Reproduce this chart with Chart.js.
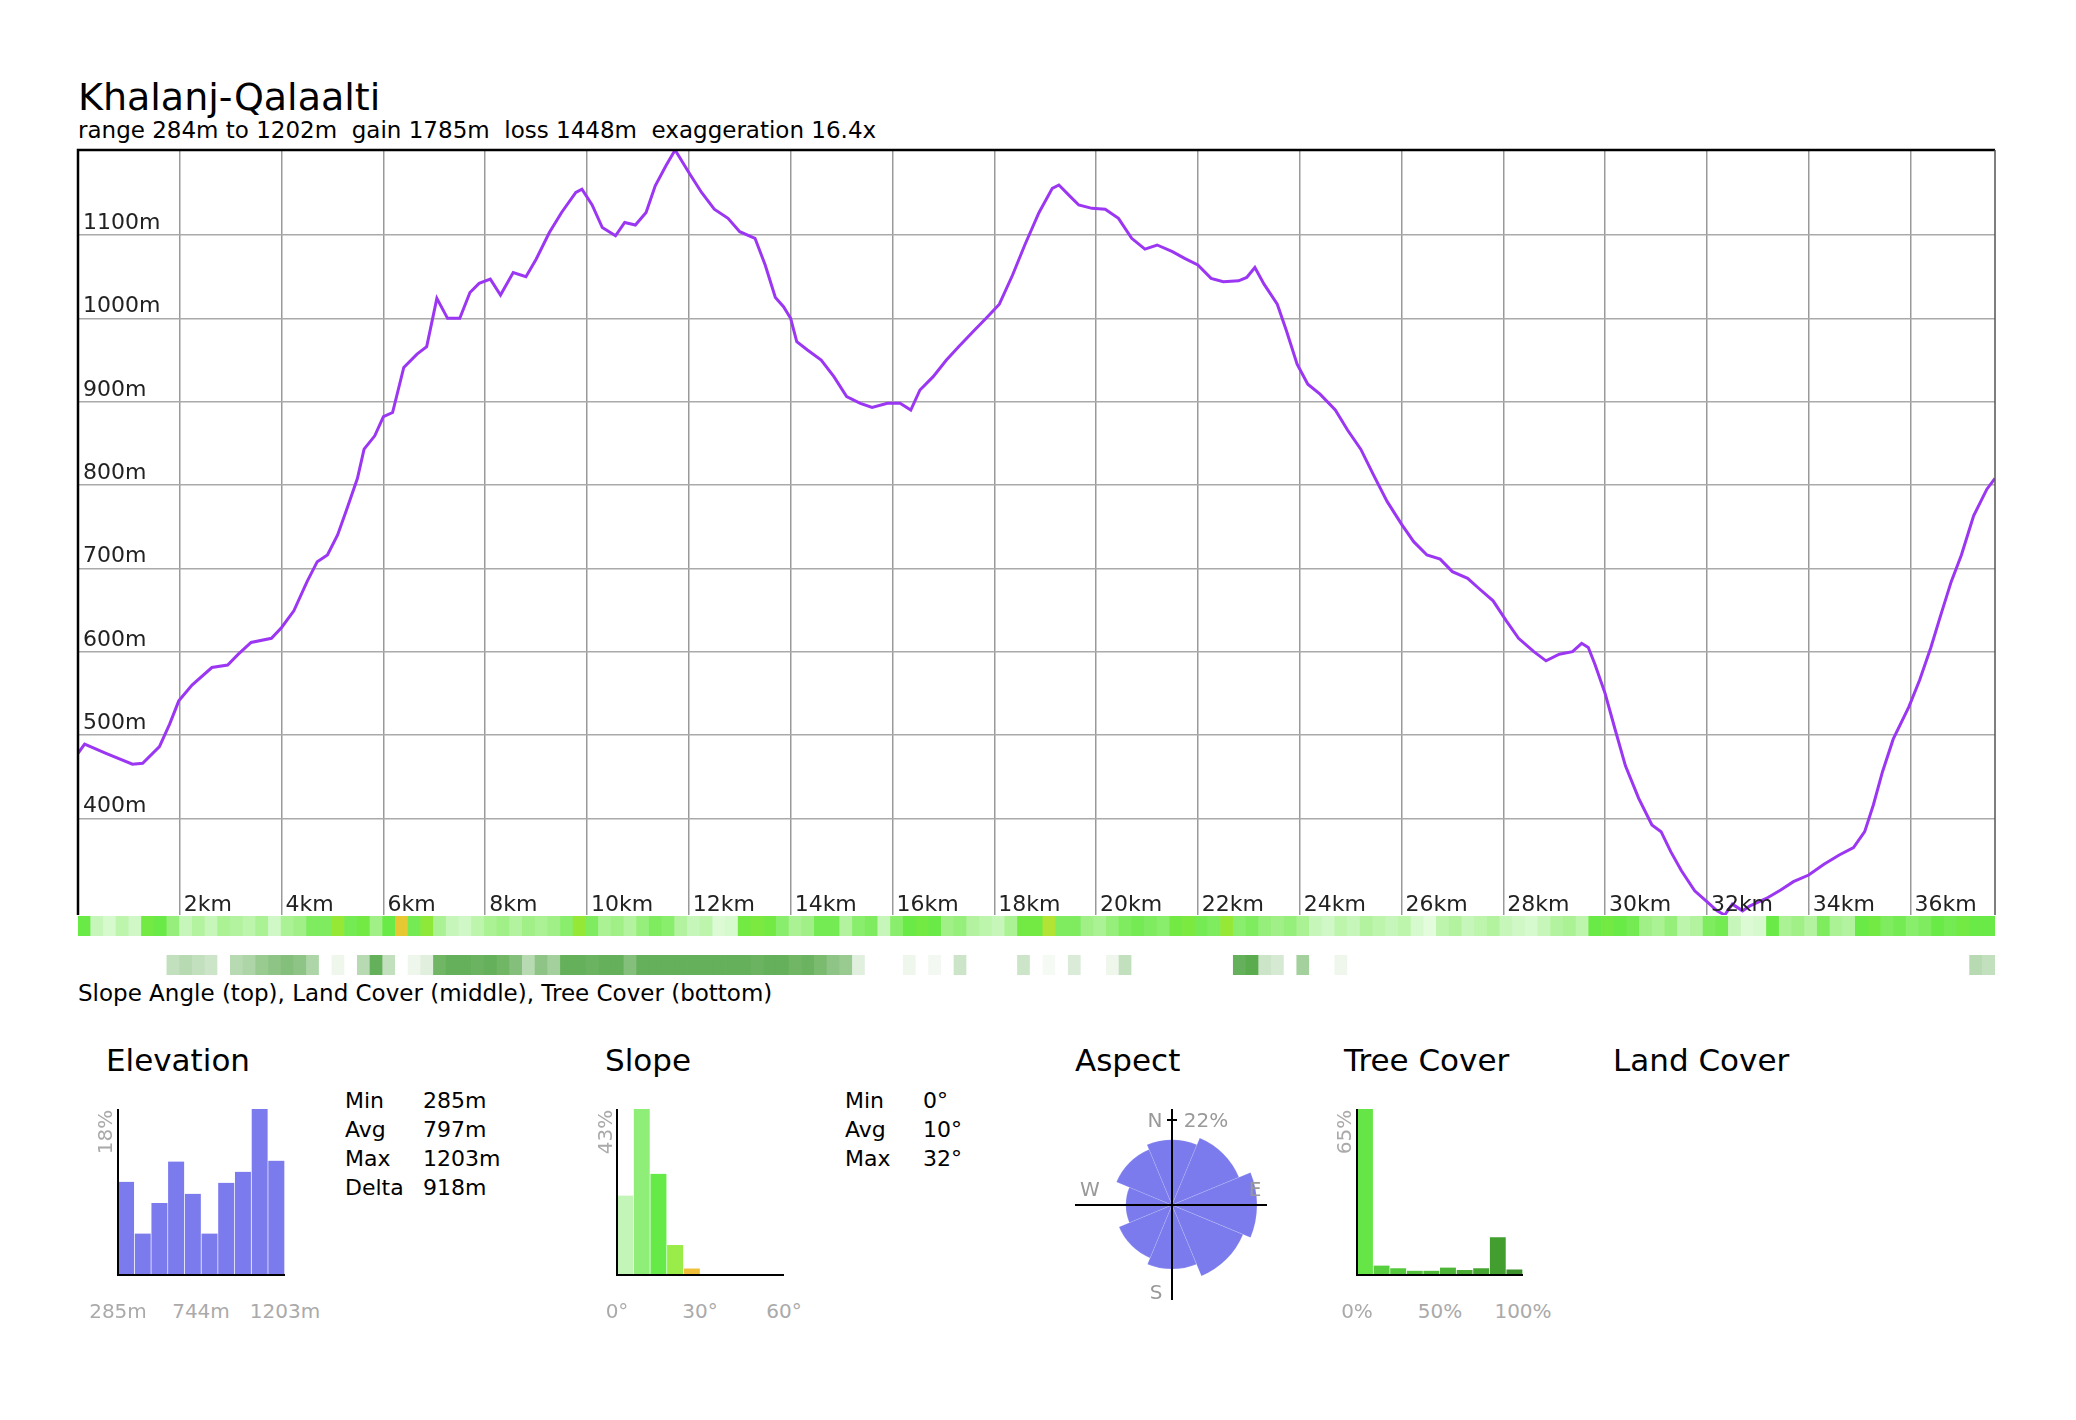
<!DOCTYPE html>
<html>
<head>
<meta charset="utf-8">
<script src="https://cdn.jsdelivr.net/npm/chart.js@4.4.0/dist/chart.umd.min.js"></script>
<style>
html, body { margin: 0; padding: 0; background: #fff; }
body { width: 2076px; height: 1420px; position: relative; overflow: hidden; font-family: "DejaVu Sans", sans-serif; color: #000; }
canvas { position: absolute; }
.t { position: absolute; white-space: pre; }
.g { position: absolute; white-space: pre; color: #aaa; font-size: 20px; line-height: 20px; transform: translate(-50%, -50%); }
.rot { transform: translate(-50%, -50%) rotate(-90deg); }
.h { font-size: 31px; line-height: 31px; top: 1045px; }
.s { font-size: 22px; line-height: 22px; }
</style>
</head>
<body>

<div class="t" style="left:78px;top:78px;font-size:38px;line-height:38px">Khalanj-Qalaalti</div>
<div class="t" style="left:78px;top:119px;font-size:23px;line-height:23px">range 284m to 1202m  gain 1785m  loss 1448m  exaggeration 16.4x</div>
<div class="t" style="left:78px;top:982px;font-size:23px;line-height:23px">Slope Angle (top), Land Cover (middle), Tree Cover (bottom)</div>

<canvas id="elevChart" width="1937" height="785" style="left:68px;top:140px"></canvas>
<canvas id="slopeStrip" width="1917" height="20" style="left:78px;top:916px"></canvas>
<canvas id="treeStrip" width="1917" height="20" style="left:78px;top:955px"></canvas>

<div class="t h" style="left:106px">Elevation</div>
<div class="t h" style="left:605px">Slope</div>
<div class="t h" style="left:1075px">Aspect</div>
<div class="t h" style="left:1344px">Tree Cover</div>
<div class="t h" style="left:1613px">Land Cover</div>

<div class="t s" style="left:345px;top:1090px">Min</div><div class="t s" style="left:423px;top:1090px">285m</div>
<div class="t s" style="left:345px;top:1119px">Avg</div><div class="t s" style="left:423px;top:1119px">797m</div>
<div class="t s" style="left:345px;top:1148px">Max</div><div class="t s" style="left:423px;top:1148px">1203m</div>
<div class="t s" style="left:345px;top:1177px">Delta</div><div class="t s" style="left:423px;top:1177px">918m</div>

<div class="t s" style="left:845px;top:1090px">Min</div><div class="t s" style="left:923px;top:1090px">0°</div>
<div class="t s" style="left:845px;top:1119px">Avg</div><div class="t s" style="left:923px;top:1119px">10°</div>
<div class="t s" style="left:845px;top:1148px">Max</div><div class="t s" style="left:923px;top:1148px">32°</div>

<canvas id="elevHist" width="175" height="174" style="left:114px;top:1105px"></canvas>
<canvas id="slopeHist" width="175" height="174" style="left:613px;top:1105px"></canvas>
<canvas id="aspectRose" width="200" height="200" style="left:1072px;top:1105px"></canvas>
<canvas id="treeHist" width="174" height="174" style="left:1353px;top:1105px"></canvas>

<div class="g rot" style="left:105px;top:1132px">18%</div>
<div class="g" style="left:118px;top:1311px">285m</div>
<div class="g" style="left:201px;top:1311px">744m</div>
<div class="g" style="left:285px;top:1311px">1203m</div>

<div class="g rot" style="left:605px;top:1132px">43%</div>
<div class="g" style="left:617px;top:1311px">0°</div>
<div class="g" style="left:700px;top:1311px">30°</div>
<div class="g" style="left:784px;top:1311px">60°</div>

<div class="g rot" style="left:1344px;top:1132px">65%</div>
<div class="g" style="left:1357px;top:1311px">0%</div>
<div class="g" style="left:1440px;top:1311px">50%</div>
<div class="g" style="left:1523px;top:1311px">100%</div>

<div class="g" style="left:1155px;top:1120px;color:#999">N</div>
<div class="g" style="left:1206px;top:1120px;color:#999">22%</div>
<div class="g" style="left:1090px;top:1189px;color:#999">W</div>
<div class="g" style="left:1255px;top:1189px;color:#999">E</div>
<div class="g" style="left:1156px;top:1292px;color:#999">S</div>

<script>
// elevation profile
var distKm = [0.0, 0.13, 0.55, 1.07, 1.27, 1.6, 1.8, 1.98, 2.24, 2.63, 2.94, 3.15, 3.4, 3.8, 4.0, 4.24, 4.5, 4.7, 4.9, 5.1,
    5.28, 5.49, 5.62, 5.83, 6.0, 6.18, 6.4, 6.66, 6.85, 7.05, 7.26, 7.5, 7.7, 7.88, 8.1, 8.3, 8.55, 8.8, 9.0, 9.26,
    9.5, 9.78, 9.9, 10.1, 10.3, 10.56, 10.74, 10.95, 11.16, 11.34, 11.55, 11.73, 12.0, 12.25, 12.5, 12.77, 13.0, 13.3, 13.5, 13.7,
    13.86, 14.0, 14.12, 14.33, 14.6, 14.85, 15.1, 15.37, 15.6, 15.9, 16.15, 16.36, 16.54, 16.8, 17.06, 17.3, 17.6, 17.84, 18.1, 18.36,
    18.6, 18.88, 19.14, 19.27, 19.48, 19.66, 19.92, 20.18, 20.44, 20.7, 20.96, 21.2, 21.5, 21.74, 22.0, 22.26, 22.5, 22.8, 22.96, 23.12,
    23.3, 23.56, 23.74, 23.95, 24.16, 24.4, 24.7, 24.94, 25.2, 25.46, 25.72, 26.0, 26.24, 26.5, 26.76, 27.0, 27.3, 27.5, 27.8, 28.06,
    28.3, 28.6, 28.84, 29.1, 29.36, 29.54, 29.67, 29.8, 30.0, 30.2, 30.4, 30.66, 30.92, 31.1, 31.29, 31.5, 31.76, 32.0, 32.2, 32.35,
    32.5, 32.7, 32.85, 33.2, 33.45, 33.7, 34.0, 34.3, 34.6, 34.88, 35.1, 35.27, 35.45, 35.66, 35.97, 36.18, 36.4, 36.6, 36.8, 37.0,
    37.24, 37.5, 37.66];
var elevM = [478, 489, 478, 465, 466, 486, 513, 541, 560, 581, 584, 597, 611, 616, 629, 649, 684, 708, 716, 740,
    771, 808, 843, 859, 882, 887, 941, 957, 966, 1024, 1000, 1000, 1031, 1042, 1047, 1028, 1055, 1050, 1071, 1103,
    1127, 1151, 1155, 1136, 1109, 1099, 1115, 1112, 1127, 1159, 1183, 1202, 1175, 1151, 1131, 1120, 1104, 1096, 1064, 1025,
    1014, 1000, 972, 962, 950, 930, 906, 898, 893, 898, 898, 890, 914, 930, 950, 966, 985, 1000, 1017, 1052,
    1088, 1127, 1156, 1160, 1147, 1136, 1132, 1131, 1120, 1096, 1083, 1088, 1080, 1072, 1064, 1048, 1044, 1045, 1049, 1061,
    1041, 1017, 985, 945, 921, 909, 890, 866, 843, 811, 780, 753, 732, 716, 711, 696, 688, 677, 661, 637,
    616, 600, 589, 597, 600, 610, 605, 585, 550, 506, 463, 424, 392, 384, 360, 337, 313, 300, 289, 284,
    297, 289, 295, 305, 314, 324, 332, 345, 356, 365, 384, 416, 456, 495, 534, 566, 605, 645, 684, 716,
    763, 795, 808];

var elevTicks = [400, 500, 600, 700, 800, 900, 1000, 1100];
var distTicks = [2, 4, 6, 8, 10, 12, 14, 16, 18, 20, 22, 24, 26, 28, 30, 32, 34, 36];

// slope angle (deg) and tree cover (%) along the track, one value per 0.25 km
var slopeDeg = [15, 6, 4, 7, 5, 16, 15, 11, 6, 8,
    6, 9, 8, 7, 9, 5, 9, 10, 13, 13,
    20, 14, 16, 10, 15, 27, 14, 19, 9, 6,
    5, 7, 9, 10, 8, 10, 9, 10, 12, 20,
    13, 9, 10, 8, 11, 13, 12, 8, 6, 7,
    3, 4, 16, 17, 16, 12, 9, 10, 14, 14,
    8, 12, 13, 6, 12, 15, 16, 15, 10, 11,
    8, 7, 6, 9, 16, 16, 22, 13, 13, 10,
    9, 11, 13, 14, 13, 12, 16, 17, 14, 13,
    20, 12, 13, 11, 10, 11, 9, 6, 5, 7,
    6, 8, 7, 6, 7, 4, 2, 7, 8, 6,
    7, 8, 6, 5, 4, 6, 8, 9, 7, 15,
    16, 15, 14, 10, 9, 11, 7, 8, 13, 14,
    6, 3, 4, 15, 9, 10, 8, 13, 9, 8,
    15, 16, 13, 14, 12, 13, 15, 14, 16, 15,
    15];
var treePct = [0, 0, 0, 0, 0, 0, 0, 30, 35, 30,
    25, 0, 35, 40, 50, 55, 60, 55, 40, 0,
    8, 0, 35, 75, 30, 0, 8, 15, 70, 75,
    75, 72, 75, 70, 60, 35, 55, 45, 75, 75,
    72, 75, 75, 60, 75, 75, 75, 75, 75, 75,
    75, 75, 75, 72, 75, 75, 70, 72, 65, 55,
    50, 15, 0, 0, 0, 8, 0, 6, 0, 25,
    0, 0, 0, 0, 25, 0, 5, 0, 18, 0,
    0, 8, 30, 0, 0, 0, 0, 0, 0, 0,
    0, 75, 80, 25, 20, 0, 45, 0, 0, 8,
    0, 0, 0, 0, 0, 0, 0, 0, 0, 0,
    0, 0, 0, 0, 0, 0, 0, 0, 0, 0,
    0, 0, 0, 0, 0, 0, 0, 0, 0, 0,
    0, 0, 0, 0, 0, 0, 0, 0, 0, 0,
    0, 0, 0, 0, 0, 0, 0, 0, 0, 35,
    30];

// summary histograms (percent of track)
var elevHistPct = [10.1, 4.5, 7.8, 12.3, 8.8, 4.5, 10.0, 11.2, 18.0, 12.4];
var slopeHistPct = [20.6, 43, 26.2, 7.8, 1.7, 0, 0, 0, 0, 0];
var treeHistPct = [65, 3.7, 2.6, 1.7, 1.7, 2.9, 2.0, 2.6, 14.8, 2.2];
var aspectDirs = ['N', 'NE', 'E', 'SE', 'S', 'SW', 'W', 'NW'];
var aspectPct = [13, 16, 22, 18, 12.5, 10, 6.5, 11];

var slopeHistColors = ['#c4f5b8', '#8eee78', '#66ea48', '#9aec48', '#f0c03a', '#f0a040', '#f08040', '#f06040', '#e04040', '#c03030'];
var treeHistColors = ['#66e646', '#58cf3e', '#55c93c', '#52c23a', '#4fbb38', '#4cb436', '#49ad34', '#46a632', '#429e2e', '#3c922a'];

var slopeStops = [[0, [238, 254, 234]], [5, [208, 248, 198]], [10, [160, 240, 135]], [15, [105, 234, 70]],
    [20, [150, 232, 55]], [25, [220, 222, 50]], [30, [245, 170, 50]], [40, [235, 100, 40]]];
var treeStops = [[0, [255, 255, 255]], [100, [50, 150, 35]]];

function stopColor(stops, v) {
    if (v <= stops[0][0]) return 'rgb(' + stops[0][1].join(',') + ')';
    for (var i = 1; i < stops.length; i++) {
        if (v <= stops[i][0]) {
            var a = stops[i - 1], b = stops[i];
            var f = (v - a[0]) / (b[0] - a[0]);
            var c = [0, 1, 2].map(function (k) { return Math.round(a[1][k] + (b[1][k] - a[1][k]) * f); });
            return 'rgb(' + c.join(',') + ')';
        }
    }
    return 'rgb(' + stops[stops.length - 1][1].join(',') + ')';
}

var FONT = '"DejaVu Sans", sans-serif';

// frame and in-plot tick labels for the profile
var profileFrame = {
    id: 'profileFrame',
    afterDraw: function (chart) {
        var ctx = chart.ctx, a = chart.chartArea;
        var xs = chart.scales.x, ys = chart.scales.y;
        ctx.save();
        ctx.font = '22px ' + FONT;
        ctx.fillStyle = '#222';
        ctx.textBaseline = 'alphabetic';
        ctx.textAlign = 'left';
        elevTicks.forEach(function (v) {
            ctx.fillText(v + 'm', a.left + 5, ys.getPixelForValue(v) - 6);
        });
        distTicks.forEach(function (v) {
            ctx.fillText(v + 'km', xs.getPixelForValue(v) + 4, a.bottom - 4);
        });
        ctx.strokeStyle = '#000';
        ctx.lineWidth = 2.5;
        ctx.beginPath();
        ctx.moveTo(a.left, a.bottom);
        ctx.lineTo(a.left, a.top);
        ctx.lineTo(a.right, a.top);
        ctx.stroke();
        ctx.strokeStyle = '#555';
        ctx.lineWidth = 1.5;
        ctx.beginPath();
        ctx.moveTo(a.right, a.top);
        ctx.lineTo(a.right, a.bottom);
        ctx.stroke();
        ctx.restore();
    }
};

var points = distKm.map(function (d, i) { return { x: d, y: elevM[i] }; });

new Chart(document.getElementById('elevChart'), {
    type: 'line',
    data: {
        datasets: [{
            data: points,
            borderColor: '#9b36f2',
            borderWidth: 3,
            pointRadius: 0,
            tension: 0,
            fill: false
        }]
    },
    options: {
        responsive: false,
        animation: false,
        layout: { padding: 10 },
        plugins: { legend: { display: false }, tooltip: { enabled: false } },
        scales: {
            x: {
                type: 'linear',
                min: 0,
                max: 37.66,
                afterBuildTicks: function (axis) { axis.ticks = distTicks.map(function (v) { return { value: v }; }); },
                ticks: { display: false },
                grid: { color: '#999', lineWidth: 1.5, drawTicks: false },
                border: { display: false }
            },
            y: {
                min: 284,
                max: 1202,
                afterBuildTicks: function (axis) { axis.ticks = elevTicks.map(function (v) { return { value: v }; }); },
                ticks: { display: false },
                grid: { color: '#aaa', lineWidth: 1.5, drawTicks: false },
                border: { display: false }
            }
        }
    },
    plugins: [profileFrame]
});

function stripChart(id, values, colorFn) {
    new Chart(document.getElementById(id), {
        type: 'bar',
        data: {
            labels: values.map(function (v, i) { return i; }),
            datasets: [{
                data: values.map(function () { return 1; }),
                backgroundColor: values.map(colorFn),
                borderWidth: 0,
                barPercentage: 1,
                categoryPercentage: 1
            }]
        },
        options: {
            responsive: false,
            animation: false,
            layout: { padding: 0 },
            plugins: { legend: { display: false }, tooltip: { enabled: false } },
            scales: { x: { display: false }, y: { display: false, min: 0, max: 1 } }
        }
    });
}
stripChart('slopeStrip', slopeDeg, function (v) { return stopColor(slopeStops, v); });
stripChart('treeStrip', treePct, function (v) { return stopColor(treeStops, v); });

var histAxes = {
    id: 'histAxes',
    afterDraw: function (chart) {
        var ctx = chart.ctx, a = chart.chartArea;
        ctx.save();
        ctx.strokeStyle = '#000';
        ctx.lineWidth = 2;
        ctx.beginPath();
        ctx.moveTo(a.left, a.top);
        ctx.lineTo(a.left, a.bottom);
        ctx.lineTo(a.right, a.bottom);
        ctx.stroke();
        ctx.restore();
    }
};

function histChart(id, values, ymax, colors) {
    new Chart(document.getElementById(id), {
        type: 'bar',
        data: {
            labels: values.map(function (v, i) { return i; }),
            datasets: [{
                data: values,
                backgroundColor: colors,
                borderColor: 'rgba(255,255,255,0.35)',
                borderWidth: { left: 0, right: 1, top: 0, bottom: 0 },
                borderSkipped: false,
                barPercentage: 1,
                categoryPercentage: 1
            }]
        },
        options: {
            responsive: false,
            animation: false,
            layout: { padding: 4 },
            plugins: { legend: { display: false }, tooltip: { enabled: false } },
            scales: { x: { display: false }, y: { display: false, min: 0, max: ymax } }
        },
        plugins: [histAxes]
    });
}
histChart('elevHist', elevHistPct, 18, '#7b7bee');
histChart('slopeHist', slopeHistPct, 43, slopeHistColors);
histChart('treeHist', treeHistPct, 65, treeHistColors);

var roseCross = {
    id: 'roseCross',
    afterDraw: function (chart) {
        var ctx = chart.ctx, s = chart.scales.r;
        var cx = s.xCenter, cy = s.yCenter;
        var tick = s.getDistanceFromCenterForValue(Math.sqrt(22));
        ctx.save();
        ctx.strokeStyle = '#000';
        ctx.lineWidth = 2;
        ctx.beginPath();
        ctx.moveTo(cx - 97, cy);
        ctx.lineTo(cx + 95, cy);
        ctx.moveTo(cx, cy - 96);
        ctx.lineTo(cx, cy + 95);
        ctx.moveTo(cx - 5, cy - tick);
        ctx.lineTo(cx + 5, cy - tick);
        ctx.stroke();
        ctx.restore();
    }
};

new Chart(document.getElementById('aspectRose'), {
    type: 'polarArea',
    data: {
        labels: aspectDirs,
        datasets: [{
            data: aspectPct.map(Math.sqrt),
            backgroundColor: '#7b7bee',
            borderColor: 'rgba(255,255,255,0.12)',
            borderWidth: 1
        }]
    },
    options: {
        responsive: false,
        animation: false,
        layout: { padding: 0 },
        plugins: { legend: { display: false }, tooltip: { enabled: false } },
        scales: { r: { display: false, min: 0, max: Math.sqrt(22) / 0.85, startAngle: -22.5 } }
    },
    plugins: [roseCross]
});
</script>
</body>
</html>
